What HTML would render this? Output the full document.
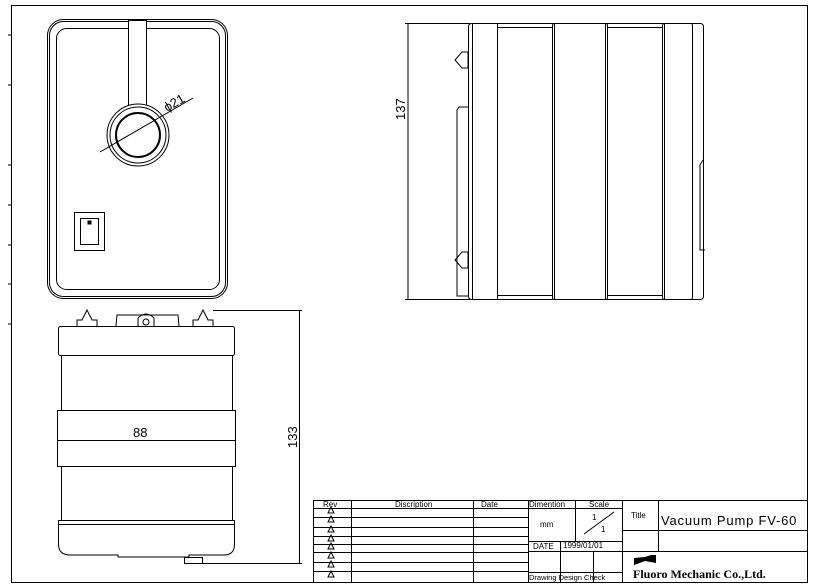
<!DOCTYPE html>
<html><head><meta charset="utf-8"><style>
html,body{margin:0;padding:0;background:#fff}
svg{display:block}
text{font-family:"Liberation Sans",sans-serif;fill:#000}
</style></head><body>
<svg width="817" height="584" viewBox="0 0 817 584" xmlns="http://www.w3.org/2000/svg" fill="none" stroke="#000" stroke-width="1">
<rect x="11.5" y="5.5" width="796" height="577"/>
<g stroke-width="1">
<line x1="8" y1="35" x2="11" y2="35"/><line x1="8" y1="85" x2="11" y2="85"/><line x1="8" y1="165" x2="11" y2="165"/>
<line x1="8" y1="205" x2="11" y2="205"/><line x1="8" y1="245" x2="11" y2="245"/><line x1="8" y1="284" x2="11" y2="284"/><line x1="8" y1="324" x2="11" y2="324"/>
</g>
<!-- front view -->
<rect x="47.5" y="19.5" width="180" height="279" rx="16"/>
<rect x="49.5" y="21.5" width="176" height="275" rx="14"/>
<rect x="56.5" y="28.5" width="163" height="261" rx="10"/>
<rect x="128.5" y="20.5" width="18" height="85" fill="#fff"/>
<circle cx="138" cy="135" r="31" fill="#fff"/>
<circle cx="138" cy="135" r="28"/>
<circle cx="138" cy="135" r="22" stroke-width="2"/>
<line x1="100" y1="152" x2="193" y2="98"/>
<text x="0" y="0" font-size="13" stroke="none" transform="translate(167,112) rotate(-30)">ϕ21</text>
<rect x="74.5" y="212.5" width="30" height="38"/>
<rect x="80.5" y="218.5" width="18" height="26"/>
<rect x="88" y="221" width="3" height="3" fill="#000"/>
<!-- side view -->
<line x1="408" y1="23" x2="408" y2="300"/>
<line x1="405" y1="23.5" x2="470" y2="23.5"/><line x1="405" y1="299.5" x2="470" y2="299.5"/>
<text x="0" y="0" font-size="13" stroke="none" transform="translate(405,120) rotate(-90)">137</text>
<rect x="468.5" y="23.5" width="235" height="276" rx="3"/>
<rect x="472.5" y="23.5" width="25" height="276"/>
<line x1="497.5" y1="27" x2="497.5" y2="296"/><line x1="498" y1="27.5" x2="552" y2="27.5"/><line x1="498" y1="295.5" x2="552" y2="295.5"/>
<rect x="552.5" y="23.5" width="55" height="276" rx="2"/>
<rect x="554.5" y="23.5" width="51" height="276"/>
<line x1="608" y1="27.5" x2="662" y2="27.5"/><line x1="608" y1="295.5" x2="662" y2="295.5"/>
<rect x="662.5" y="23.5" width="30" height="276" rx="2"/>
<line x1="664.5" y1="24" x2="664.5" y2="299"/>
<path d="M468 52 L462 52 L455 60 L462 68 L468 68 Z"/>
<path d="M468 252 L462 252 L455 260 L462 268 L468 268 Z"/>
<path d="M468 107 L459 107 L457 110 L457 296 L468 296"/>
<path d="M703 160 L700 165 L700 250 L705 250"/>
<!-- bottom view -->
<path d="M77 326 L77 320 L82 320 L87 310 L92 320 L97 320 L97 326"/>
<path d="M193 326 L193 320 L198 320 L203 310 L208 320 L213 320 L213 326"/>
<path d="M116 326 L117 315 L178 315 L179 326"/>
<path d="M138 326 L138 318 Q146 310 154 318 L154 326"/>
<circle cx="146" cy="322" r="3"/>
<line x1="213" y1="310.5" x2="302" y2="310.5"/>
<rect x="58.5" y="326.5" width="176" height="29" rx="2"/>
<rect x="61.5" y="355.5" width="171" height="55"/>
<rect x="57.5" y="410.5" width="178" height="56"/>
<rect x="61.5" y="466.5" width="171" height="54"/>
<path d="M58.5 520.5 L234.5 520.5 L234.5 545 Q234 555 224 555 L189 555 L189 557 L118 557 L118 555 L70 555 Q59 555 58.5 545 Z"/>
<line x1="58.5" y1="524.5" x2="234.5" y2="524.5"/>
<rect x="184.5" y="557.5" width="18" height="6"/>
<line x1="202" y1="563.5" x2="302" y2="563.5"/>
<line x1="57" y1="440.5" x2="236" y2="440.5"/>
<text x="133" y="437" font-size="13" stroke="none">88</text>
<line x1="299.5" y1="311" x2="299.5" y2="563"/>
<text x="0" y="0" font-size="13" stroke="none" transform="translate(297,448) rotate(-90)">133</text>
<!-- title block -->
<rect x="313.5" y="500.5" width="494" height="82"/>
<line x1="351.5" y1="500" x2="351.5" y2="582"/>
<line x1="473.5" y1="500" x2="473.5" y2="582"/>
<line x1="528.5" y1="500" x2="528.5" y2="582"/>
<line x1="622.5" y1="500" x2="622.5" y2="582"/>
<line x1="658.5" y1="500" x2="658.5" y2="551"/>
<g>
<line x1="313" y1="508.5" x2="622" y2="508.5"/>
<line x1="313" y1="517.5" x2="528" y2="517.5"/>
<line x1="313" y1="527.5" x2="528" y2="527.5"/>
<line x1="313" y1="536.5" x2="528" y2="536.5"/>
<line x1="313" y1="544.5" x2="528" y2="544.5"/>
<line x1="313" y1="552.5" x2="528" y2="552.5"/>
<line x1="313" y1="562.5" x2="528" y2="562.5"/>
<line x1="313" y1="571.5" x2="528" y2="571.5"/>
<line x1="575.5" y1="500" x2="575.5" y2="541"/>
<line x1="528" y1="541.5" x2="622" y2="541.5"/>
<line x1="528" y1="551.5" x2="622" y2="551.5"/>
<line x1="560.5" y1="541" x2="560.5" y2="582"/>
<line x1="593.5" y1="551" x2="593.5" y2="582"/>
<line x1="528" y1="572.5" x2="622" y2="572.5"/>
<line x1="622" y1="530.5" x2="807" y2="530.5"/>
<line x1="622" y1="551.5" x2="807" y2="551.5"/>
<line x1="584" y1="534" x2="614" y2="512"/>
</g>
<g stroke="none" font-size="8">
<text x="323" y="507">Rev</text>
<text x="395" y="507">Discription</text>
<text x="481" y="507">Date</text>
<text x="529" y="507">Dimention</text>
<text x="589" y="507">Scale</text>
<text x="540" y="527">mm</text>
<text x="592" y="520">1</text>
<text x="601" y="532">1</text>
<text x="631" y="518">Title</text>
<text x="533" y="549">DATE</text>
<text x="563" y="548">1999/01/01</text>
<text x="529" y="580" font-size="7.5">Drawing Design Check</text>
<text x="661" y="525" font-size="13" letter-spacing="0.8">Vacuum Pump FV-60</text>
<text x="633" y="578" font-size="12" style="font-family:'Liberation Serif',serif;font-weight:bold">Fluoro Mechanic Co.,Ltd.</text>
</g>
<path d="M634 558 L645 557 L651 555 L656 555 L656 563 L645 561 L634 565 Z" fill="#000" stroke="none"/>
<g fill="none" stroke="#000" stroke-width="1">
<path d="M328 513 L331 507 L334 513 Z"/><path d="M328 522 L331 516 L334 522 Z"/><path d="M328 532 L331 526 L334 532 Z"/>
<path d="M328 541 L331 535 L334 541 Z"/><path d="M328 549 L331 543 L334 549 Z"/><path d="M328 558 L331 552 L334 558 Z"/>
<path d="M328 567 L331 561 L334 567 Z"/><path d="M328 577 L331 571 L334 577 Z"/>
</g>
</svg>
</body></html>
